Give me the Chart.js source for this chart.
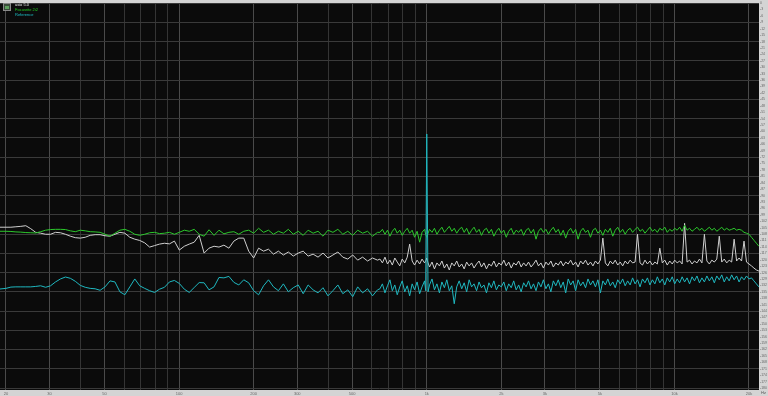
<!DOCTYPE html>
<html><head><meta charset="utf-8">
<script src="https://cdn.jsdelivr.net/npm/chart.js@4.4.1/dist/chart.umd.min.js"></script>
<style>html,body{margin:0;padding:0;background:#d4d4d4;}canvas{display:block;}</style>
</head><body>
<canvas id="c" width="768" height="396"></canvas>
<script>
const freqs = [18.9,20,20.94,21.93,22.96,24.05,25.18,26.37,27.61,28.91,30.27,31.7,33.19,34.76,36.39,38.11,39.91,41.79,43.76,45.82,47.98,50.24,52.61,55.08,57.68,60.4,63.25,66.23,69.35,72.62,76.04,79.62,83.37,87.3,91.42,95.73,100.2,105,109.9,115.1,120.5,126.2,132.1,138.4,144.9,151.7,158.9,166.4,174.2,182.4,191,200,
209.4,219.3,229.6,240.5,251.8,263.7,276.1,289.1,302.7,317,331.9,347.6,363.9,381.1,399.1,417.9,437.6,458.2,479.8,502.4,526.1,550.8,576.8,604,632.5,
647,662,678,694,710,726,743,760,778,796,815,834,853,873,893,914,936,957,980,990,1000,1012,
1026,1050,1074,1099,1125,1151,1178,1205,1233,1262,1291,1321,1352,1384,1416,1449,1483,1517,1552,1589,1626,1663,1702,1742,1782,1824,1866,1910,1954,2000,
2047,2094,2143,2193,2244,2296,2350,2405,2461,2518,2576,2637,2698,2761,2825,2891,2958,3027,3098,3170,3244,3319,3396,3476,3557,3639,3724,3811,3900,3991,4083,4179,4276,4376,4477,4582,4688,4798,4909,5024,5141,5261,5383,5508,5637,5768,5902,6040,6181,6325,6472,6623,6777,6935,7096,7262,7431,7604,7781,7962,8148,8337,8532,8730,8934,9142,9355,9573,9796,10024,10257,10496,10741,10991,11247,11509,11777,12051,12332,12619,12913,13213,13521,13836,14159,14489,14826,15172,15525,15887,16257,16635,17023,17419,17825,18239,18664,19098,19542,20000,20466,20940,21430,21930];

const whiteDb = [-104.8,-104.8,-104.8,-104.6,-104.4,-104.1,-105.5,-107.2,-107.6,-108.1,-108.1,-107.2,-107.4,-108.1,-109.0,-109.7,-109.9,-109.5,-108.6,-108.3,-108.3,-108.8,-109.0,-108.1,-107.2,-107.6,-109.5,-110.4,-111.0,-112.1,-114.1,-113.4,-112.7,-112.3,-112.6,-111.3,-115.5,-113.7,-112.7,-111.8,-108.6,-116.9,-114.6,-113.7,-114.1,-113.2,-114.6,-111.3,-109.9,-109.9,-116.0,-119.2,
-114.6,-116.0,-115.1,-117.4,-116.0,-117.8,-116.4,-118.3,-116.9,-116.0,-118.3,-117.4,-118.8,-116.9,-119.2,-117.8,-116.4,-118.8,-119.7,-117.8,-120.2,-118.8,-120.6,-119.2,-120.2,
-119.7,-121.5,-118.8,-122.0,-120.2,-122.5,-119.2,-121.1,-122.9,-119.7,-121.5,-118.8,-112.7,-120.6,-122.5,-120.2,-122.0,-119.7,-121.5,-120.6,-119.2,-121.5,
-123.4,-121.1,-124.3,-121.5,-122.9,-120.6,-123.9,-122.0,-124.8,-121.5,-122.9,-120.6,-123.4,-122.0,-124.3,-121.1,-122.9,-121.5,-123.9,-122.0,-120.6,-123.4,-121.5,-124.3,-122.0,-122.9,-120.6,-123.4,-121.5,-122.5,
-120.2,-122.9,-121.1,-123.9,-121.5,-122.5,-120.6,-123.4,-121.5,-122.9,
-121.1,-123.4,-122.0,-120.2,-122.9,-121.5,-123.9,-121.1,-122.5,-120.6,
-123.4,-121.5,-122.5,-120.6,-122.9,-121.1,-122.0,-120.2,-122.5,-121.1,
-123.4,-120.6,-122.0,-120.2,-122.5,-121.1,-122.9,-120.6,-122.0,-120.2,
-109.9,-121.5,-122.9,-120.6,-122.0,-120.2,-122.5,-121.1,-122.9,-120.6,
-122.0,-120.2,-121.5,-121.1,-108.1,-121.5,-122.5,-120.2,-122.0,-120.6,
-122.5,-121.1,-122.0,-114.6,-121.5,-120.2,-122.5,-120.6,-122.0,-120.2,
-121.5,-120.6,-122.0,-103.0,-121.1,-120.2,-122.0,-120.6,-121.5,-119.7,
-121.5,-108.1,-120.6,-122.0,-120.2,-121.1,-119.7,-109.0,-121.1,-119.7,
-121.5,-120.2,-121.1,-110.4,-120.6,-119.2,-120.6,-111.3,-121.1,-122.0,
-122.9,-123.9,-124.8,-125.3];

const greenDb = [-106.7,-106.7,-106.8,-107.0,-107.1,-107.3,-107.4,-107.5,-106.9,-106.2,-105.9,-105.8,-105.8,-105.9,-106.5,-106.9,-106.2,-106.5,-106.9,-107.0,-107.2,-108.1,-109.0,-107.6,-106.2,-105.8,-106.7,-108.1,-108.6,-108.1,-107.4,-107.2,-107.8,-107.6,-107.2,-108.1,-107.2,-106.2,-106.7,-105.8,-108.1,-109.0,-106.0,-108.6,-106.2,-107.9,-107.2,-106.9,-108.1,-106.7,-106.2,-107.6,
-105.3,-107.2,-106.2,-108.1,-106.7,-107.6,-105.8,-108.1,-106.7,-108.6,-106.2,-107.6,-106.7,-109.0,-106.2,-107.2,-105.8,-108.1,-106.7,-108.6,-106.2,-107.6,-106.7,-109.0,-107.2,
-107.2,-105.8,-108.1,-106.2,-109.0,-106.7,-105.3,-107.6,-106.2,-108.6,-106.7,-105.3,-107.6,-106.2,-109.5,-106.7,-111.8,-107.2,-105.8,-108.1,-109.5,-107.6,
-105.8,-107.2,-105.3,-108.1,-106.2,-104.8,-107.2,-105.8,-104.4,-106.7,-105.3,-107.6,-105.8,-104.8,-107.2,-105.3,-108.1,-106.2,-104.8,-107.2,-105.8,-108.6,-106.2,-105.3,-107.6,-105.8,-109.0,-106.7,-105.3,-107.6,
-106.2,-109.5,-106.7,-105.3,-108.1,-106.2,-107.2,-105.8,-108.6,-106.2,
-105.3,-107.6,-105.8,-110.4,-106.7,-105.3,-107.2,-105.8,-108.1,-106.2,
-104.8,-107.2,-105.8,-108.6,-106.2,-109.9,-106.7,-105.3,-107.6,-105.8,
-110.4,-106.7,-105.3,-107.2,-106.2,-109.5,-106.2,-105.3,-107.6,-106.2,
-108.6,-105.8,-107.2,-105.3,-109.0,-106.2,-104.8,-107.2,-105.8,-108.1,
-106.2,-105.3,-107.2,-105.8,-104.8,-106.7,-105.8,-107.6,-106.2,-104.8,
-106.7,-105.8,-107.2,-105.3,-106.2,-104.8,-107.2,-105.8,-106.7,-105.3,
-106.2,-104.8,-106.7,-103.9,-106.2,-105.3,-106.7,-105.8,-104.8,-106.2,
-105.3,-106.7,-105.8,-104.8,-106.2,-105.3,-106.7,-105.8,-104.8,-106.2,
-105.3,-106.2,-105.8,-105.3,-106.2,-105.8,-106.2,-107.2,-107.6,-108.1,
-109.5,-110.9,-112.3,-113.7];

const cyanDb = [-133.7,-133.4,-132.8,-132.7,-132.7,-132.7,-132.7,-132.5,-132.2,-132.9,-132.2,-130.4,-129.0,-128.1,-128.7,-130.1,-132.0,-132.9,-133.4,-133.6,-134.3,-132.7,-129.9,-130.4,-135.0,-136.4,-132.7,-129.0,-132.2,-133.4,-134.5,-135.3,-133.8,-132.9,-130.4,-129.7,-131.1,-133.8,-135.3,-133.0,-130.7,-130.8,-134.1,-132.7,-128.3,-128.5,-127.8,-130.6,-131.8,-129.4,-130.8,-134.5,
-136.4,-132.2,-129.4,-132.7,-134.5,-131.3,-135.0,-133.1,-131.8,-135.9,-131.8,-134.1,-135.5,-133.1,-136.9,-134.5,-131.8,-135.9,-134.1,-137.3,-132.7,-135.5,-133.6,-136.9,-134.1,
-133.6,-131.3,-135.5,-132.2,-129.4,-134.5,-131.8,-136.4,-132.7,-129.9,-135.0,-132.2,-136.9,-131.3,-134.1,-130.4,-135.9,-132.7,-129.9,-134.5,-61.2,-135.0,
-131.8,-129.0,-134.1,-131.3,-135.5,-130.4,-133.1,-129.4,-134.5,-132.2,-140.6,-132.7,-129.9,-133.6,-130.8,-135.0,-129.4,-132.7,-131.3,-134.5,-130.4,-133.1,-131.8,-135.5,-130.8,-133.1,-129.9,-134.1,-131.8,-132.7,
-130.4,-134.5,-131.3,-133.1,-129.9,-134.1,-131.8,-135.0,-130.8,-132.7,
-129.9,-133.6,-131.3,-134.5,-130.4,-132.7,-129.4,-133.6,-131.3,-135.0,
-129.9,-132.2,-129.4,-133.1,-130.4,-135.5,-129.0,-131.8,-129.9,-134.5,
-129.4,-132.2,-130.4,-133.1,-129.0,-131.8,-129.9,-132.7,-129.4,-135.5,
-129.9,-131.8,-129.0,-132.2,-130.4,-133.1,-129.4,-131.3,-129.0,-132.2,
-129.9,-131.8,-128.5,-131.3,-129.4,-132.7,-129.0,-130.8,-128.5,-131.8,
-129.4,-131.3,-128.0,-130.8,-129.0,-131.8,-128.5,-130.4,-128.0,-131.3,
-129.0,-130.8,-128.0,-130.4,-128.5,-131.3,-128.0,-129.9,-127.6,-130.8,
-128.5,-130.4,-127.6,-129.9,-128.0,-130.8,-127.6,-129.4,-127.1,-130.4,
-128.0,-129.9,-127.1,-129.4,-127.6,-130.4,-128.0,-129.4,-127.6,-129.0,
-128.5,-129.9,-131.3,-132.7];

const seriesNames = ['asio 5.0', 'Focusrite 2i2', 'Reference'];
const xTicks = [20,30,40,50,60,70,80,90,100,200,300,400,500,600,700,800,900,1000,2000,3000,4000,5000,6000,7000,8000,9000,10000,20000];
const xLabelValues = [20,30,50,100,200,300,500,1000,2000,3000,5000,10000,20000];
const xLabelTexts = ['20','30','50','100','200','300','500','1k','2k','3k','5k','10k','20k'];
const yTicks = [0,-3,-6,-9,-12,-15,-18,-21,-24,-27,-30,-33,-36,-39,-42,-45,-48,-51,-54,-57,-60,-63,-66,-69,-72,-75,-78,-81,-84,-87,-90,-93,-96,-99,-102,-105,-108,-111,-114,-117,-120,-123,-126,-129,-132,-135,-138,-141,-144,-147,-150,-153,-156,-159,-162,-165,-168,-171,-174,-177,-180];

const toPts = arr => freqs.map((f, i) => ({x: f, y: arr[i]}));

const bgPlugin = {
  id: 'bg',
  beforeDraw(chart) {
    const {ctx, chartArea: a} = chart;
    ctx.save();
    ctx.fillStyle = '#d4d4d4';
    ctx.fillRect(0, 0, chart.width, chart.height);
    ctx.fillStyle = '#0b0b0b';
    ctx.fillRect(a.left, a.top, a.right - a.left, a.bottom - a.top);
    ctx.restore();
  },
  afterDraw(chart) {
    const {ctx} = chart;
    ctx.save();
    // legend icon
    ctx.fillStyle = '#3c4c3c';
    ctx.fillRect(3, 3, 8, 8);
    ctx.strokeStyle = '#8a8a8a';
    ctx.lineWidth = 1;
    ctx.strokeRect(3.5, 3.5, 7, 7);
    ctx.fillStyle = '#5fa05f';
    ctx.fillRect(5, 6, 4, 3);
    ctx.font = '4px "Liberation Sans", Arial, sans-serif';
    ctx.textBaseline = 'middle';
    const cols = ['#e6e6e6', '#22d022', '#1ec0c8'];
    seriesNames.forEach((n, i) => {
      ctx.fillStyle = cols[i];
      ctx.fillText(n, 15, 5 + i * 5);
    });
    ctx.fillStyle = '#555';
    ctx.fillText('Hz', 761, 393);
    ctx.restore();
  }
};

new Chart(document.getElementById('c'), {
  type: 'line',
  data: {
    datasets: [
      {label: seriesNames[2], data: toPts(cyanDb), borderColor: '#1fb8c0', order: 0},
      {label: seriesNames[0], data: toPts(whiteDb), borderColor: '#cfcfcf', order: 2},
      {label: seriesNames[1], data: toPts(greenDb), borderColor: '#2cc82c', order: 1}
    ]
  },
  options: {
    responsive: false,
    animation: false,
    devicePixelRatio: 1,
    layout: {padding: 0},
    elements: {line: {borderWidth: 1, tension: 0}, point: {radius: 0}},
    plugins: {legend: {display: false}, tooltip: {enabled: false}},
    scales: {
      x: {
        type: 'logarithmic',
        min: 18.92, max: 21950,
        afterBuildTicks: s => { s.ticks = xTicks.map(v => ({value: v})); },
        afterFit: s => { s.height = 6; },
        border: {display: false},
        grid: {drawTicks: false, color: c => xLabelValues.includes(c.tick && c.tick.value) ? '#4a4a4a' : '#343434', lineWidth: 1},
        ticks: {
          autoSkip: false, maxRotation: 0, padding: 1,
          color: '#666', font: {size: 4, family: 'Liberation Sans'},
          callback: v => { const i = xLabelValues.indexOf(v); return i >= 0 ? xLabelTexts[i] : ''; }
        }
      },
      y: {
        type: 'linear', position: 'right',
        min: -180.93, max: 0,
        afterBuildTicks: s => { s.ticks = yTicks.map(v => ({value: v})); },
        afterFit: s => { s.width = 9; },
        border: {display: false},
        grid: {drawTicks: false, color: c => (c.tick && c.tick.value % 9 === 0) ? '#3a3a3a' : 'rgba(0,0,0,0)', lineWidth: 1},
        ticks: {
          autoSkip: false, padding: 1,
          color: '#666', font: {size: 3.5, family: 'Liberation Sans'},
          callback: v => String(v)
        }
      }
    }
  },
  plugins: [bgPlugin]
});
</script>
</body></html>
